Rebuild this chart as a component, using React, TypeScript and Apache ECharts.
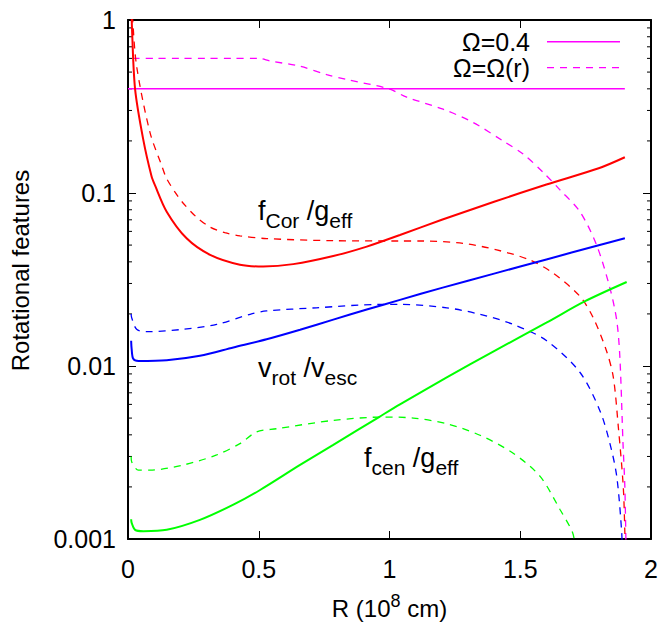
import React, { useEffect, useRef } from 'react';
import * as echarts from 'echarts';

// ---------- data ----------
const xTickLabels = ['0', '0.5', '1', '1.5', '2'];
const yTickLabels = ['0.001', '0.01', '0.1', '1'];
const minorTickValues = [
  0.002, 0.003, 0.004, 0.005, 0.006, 0.007, 0.008, 0.009,
  0.02, 0.03, 0.04, 0.05, 0.06, 0.07, 0.08, 0.09,
  0.2, 0.3, 0.4, 0.5, 0.6, 0.7, 0.8, 0.9,
];
const legendNames = ['Ω=0.4', 'Ω=Ω(r)'];

const omegaConstX = [0, 1.9];
const omegaConstY = [0.4, 0.4];

const omegaRX = [0.018, 0.1, 0.2, 0.3, 0.4, 0.5, 0.543, 0.658, 0.76, 0.836, 0.998, 1.066, 1.205, 1.319, 1.434, 1.511, 1.587, 1.65, 1.728, 1.792, 1.843, 1.869, 1.881, 1.893, 1.9, 1.905];
const omegaRY = [0.6, 0.6, 0.6, 0.6, 0.6, 0.6, 0.58, 0.54, 0.483, 0.453, 0.4, 0.358, 0.305, 0.256, 0.2, 0.168, 0.132, 0.105, 0.078, 0.05, 0.0282, 0.0183, 0.0112, 0.00355, 0.002, 0.0008];

const fCorX = [0.013, 0.015, 0.027, 0.058, 0.09, 0.103, 0.148, 0.224, 0.314, 0.428, 0.517, 0.632, 0.785, 0.913, 1.04, 1.2, 1.4, 1.6, 1.8, 1.9];
const fCorY = [1.3, 0.92, 0.40, 0.205, 0.125, 0.111, 0.078, 0.0547, 0.0439, 0.0385, 0.0376, 0.0388, 0.0432, 0.049, 0.0572, 0.07, 0.089, 0.112, 0.139, 0.161];

const fCorRX = [0.012, 0.018, 0.033, 0.084, 0.129, 0.148, 0.192, 0.212, 0.26, 0.314, 0.37, 0.428, 0.53, 0.785, 1.04, 1.128, 1.281, 1.41, 1.537, 1.626, 1.728, 1.779, 1.83, 1.856, 1.875, 1.894, 1.9, 1.902];
const fCorRY = [1.5, 1.0, 0.54, 0.224, 0.144, 0.121, 0.095, 0.087, 0.073, 0.0635, 0.059, 0.0565, 0.0545, 0.053, 0.0528, 0.0528, 0.0512, 0.0469, 0.041, 0.0344, 0.0253, 0.019, 0.0122, 0.0086, 0.00445, 0.002, 0.00109, 0.0008];

const vRotX = [0.012, 0.014, 0.02, 0.04, 0.148, 0.275, 0.403, 0.53, 0.658, 0.785, 0.913, 1.04, 1.2, 1.4, 1.6, 1.8, 1.9];
const vRotY = [0.014, 0.0125, 0.011, 0.0107, 0.0108, 0.01146, 0.0128, 0.01427, 0.0162, 0.01853, 0.0212, 0.0241, 0.0283, 0.0342, 0.0413, 0.0499, 0.0548];

const vRotRX = [0.012, 0.014, 0.033, 0.071, 0.212, 0.339, 0.467, 0.53, 0.72, 0.964, 1.04, 1.219, 1.346, 1.473, 1.601, 1.728, 1.805, 1.843, 1.869, 1.888, 1.89];
const vRotRY = [0.02, 0.019, 0.0163, 0.0158, 0.0163, 0.0174, 0.0199, 0.0208, 0.0217, 0.0227, 0.0227, 0.0217, 0.0199, 0.0174, 0.014, 0.0092, 0.0055, 0.00356, 0.0023, 0.00109, 0.0008];

const fCenX = [0.012, 0.014, 0.027, 0.059, 0.148, 0.275, 0.403, 0.505, 0.658, 0.785, 0.96, 1.04, 1.219, 1.4, 1.6, 1.748, 1.907];
const fCenY = [0.0013, 0.00124, 0.00113, 0.00111, 0.00113, 0.00129, 0.00158, 0.00192, 0.00268, 0.0035, 0.00507, 0.006, 0.0086, 0.0122, 0.0178, 0.0237, 0.0306];

const fCenRX = [0.012, 0.014, 0.04, 0.084, 0.212, 0.339, 0.428, 0.492, 0.569, 0.785, 0.976, 1.091, 1.219, 1.346, 1.473, 1.576, 1.652, 1.70, 1.71];
const fCenRY = [0.003, 0.0028, 0.0025, 0.0025, 0.00268, 0.00306, 0.00356, 0.00416, 0.00434, 0.00485, 0.00507, 0.005, 0.00464, 0.00398, 0.00313, 0.0023, 0.00148, 0.00109, 0.0009];

// ---------- styles ----------
const FONT = '"Liberation Sans", Arial, Helvetica, sans-serif';
const RED = '#ff0000';
const BLUE = '#0000ff';
const GREEN = '#00ff00';
const MAG = '#ff00ff';
const DASH = [7, 6];

const zip = (xs: number[], ys: number[]) => xs.map((x, i) => [x, ys[i]]);

function lineSeries(name: string, xs: number[], ys: number[], color: string, dashed: boolean, width: number) {
  return {
    name,
    type: 'line',
    data: zip(xs, ys),
    xAxisIndex: 0,
    yAxisIndex: 0,
    symbol: 'none',
    showSymbol: false,
    smooth: 0.3,
    clip: true,
    lineStyle: { color, width, type: dashed ? DASH : 'solid' },
    itemStyle: { color },
    emphasis: { disabled: true },
    z: dashed ? 2 : 3,
  };
}

const annRich = {
  m: { fontSize: 27, lineHeight: 30, fontFamily: FONT, verticalAlign: 'top', fill: '#000' },
  s: { fontSize: 21, lineHeight: 21, padding: [13, 0, 0, 0], fontFamily: FONT, verticalAlign: 'top', fill: '#000' },
};

function annotation(text: string, x: number, y: number) {
  return {
    type: 'text',
    x,
    y,
    silent: true,
    style: { text, rich: annRich, align: 'left', verticalAlign: 'top', fill: '#000', fontFamily: FONT, fontSize: 27 },
  };
}

function legendRow(label: string, y: number, dashed: boolean, width: number) {
  return [
    {
      type: 'text',
      x: 530,
      y,
      silent: true,
      style: { text: label, align: 'right', verticalAlign: 'middle', fill: '#000', fontFamily: FONT, fontSize: 25 },
    },
    {
      type: 'line',
      silent: true,
      shape: { x1: 547, y1: y, x2: 620, y2: y },
      style: { stroke: MAG, lineWidth: width, lineDash: dashed ? DASH : null },
    },
  ];
}

export default function App() {
  const ref = useRef<HTMLDivElement>(null);
  useEffect(() => {
    document.body.style.margin = '0';
    const chart = echarts.init(ref.current as HTMLDivElement, null, { renderer: 'svg' });
    chart.setOption({
      animation: false,
      backgroundColor: '#ffffff',
      textStyle: { fontFamily: FONT },
      grid: { left: 128, right: 12, top: 20, bottom: 82, containLabel: false },
      xAxis: [
        {
          type: 'value',
          min: 0,
          max: 2,
          interval: 0.5,
          position: 'bottom',
          name: '{n|R (10}{sup|8}{n| cm)}',
          nameLocation: 'middle',
          nameGap: 53,
          nameTextStyle: {
            rich: {
              n: { fontFamily: FONT, fontSize: 24, lineHeight: 24, padding: [4, 0, 0, 0], verticalAlign: 'top', color: '#000' },
              sup: { fontFamily: FONT, fontSize: 18, lineHeight: 18, verticalAlign: 'top', color: '#000' },
            },
          },
          axisLine: { show: true, onZero: false, lineStyle: { color: '#000', width: 2 } },
          axisTick: { show: true, inside: true, length: 8, lineStyle: { color: '#000', width: 1 } },
          axisLabel: {
            margin: 17,
            fontSize: 25,
            fontFamily: FONT,
            color: '#000',
            formatter: (v: number) => xTickLabels[Math.round(v / 0.5)] ?? '',
          },
          splitLine: { show: false },
        },
        {
          type: 'value',
          min: 0,
          max: 2,
          interval: 0.5,
          position: 'top',
          axisLine: { show: true, onZero: false, lineStyle: { color: '#000', width: 2 } },
          axisTick: { show: true, inside: true, length: 8, lineStyle: { color: '#000', width: 1 } },
          axisLabel: { show: false },
          splitLine: { show: false },
        },
      ],
      yAxis: [
        {
          type: 'log',
          logBase: 10,
          min: 0.001,
          max: 1,
          position: 'left',
          name: 'Rotational features',
          nameLocation: 'middle',
          nameGap: 96,
          nameTextStyle: { fontFamily: FONT, fontSize: 24, color: '#000', padding: [0, 0, 0, 18] },
          axisLine: { show: true, onZero: false, lineStyle: { color: '#000', width: 2 } },
          axisTick: { show: true, inside: true, length: 8, lineStyle: { color: '#000', width: 1 } },
          axisLabel: {
            margin: 12,
            fontSize: 25,
            fontFamily: FONT,
            color: '#000',
            formatter: (v: number) => yTickLabels[Math.round(Math.log10(v)) + 3] ?? '',
          },
          splitLine: { show: false },
        },
        {
          type: 'log',
          logBase: 10,
          min: 0.001,
          max: 1,
          position: 'right',
          axisLine: { show: true, onZero: false, lineStyle: { color: '#000', width: 2 } },
          axisTick: { show: true, inside: true, length: 8, lineStyle: { color: '#000', width: 1 } },
          axisLabel: { show: false },
          splitLine: { show: false },
        },
      ],
      graphic: [
        annotation('{m|f}{s|Cor}{m| /g}{s|eff}', 258, 197),
        annotation('{m|v}{s|rot}{m| /v}{s|esc}', 258, 354),
        annotation('{m|f}{s|cen}{m| /g}{s|eff}', 364, 444),
        ...legendRow(legendNames[0], 41.7, false, 1.5),
        ...legendRow(legendNames[1], 67.7, true, 1.3),
      ],
      series: [
        lineSeries(legendNames[0], omegaConstX, omegaConstY, MAG, false, 1.5),
        lineSeries(legendNames[1], omegaRX, omegaRY, MAG, true, 1.3),
        lineSeries('fCor Ω=0.4', fCorX, fCorY, RED, false, 2),
        lineSeries('fCor Ω(r)', fCorRX, fCorRY, RED, true, 1.3),
        lineSeries('vrot Ω=0.4', vRotX, vRotY, BLUE, false, 2),
        lineSeries('vrot Ω(r)', vRotRX, vRotRY, BLUE, true, 1.3),
        lineSeries('fcen Ω=0.4', fCenX, fCenY, GREEN, false, 2),
        lineSeries('fcen Ω(r)', fCenRX, fCenRY, GREEN, true, 1.3),
        {
          name: 'minor ticks',
          type: 'custom',
          xAxisIndex: 0,
          yAxisIndex: 0,
          silent: true,
          clip: false,
          data: minorTickValues.map((v) => [0, v]),
          renderItem: (_params: any, api: any) => {
            const v = api.value(1);
            const l = api.coord([0, v]);
            const r = api.coord([2, v]);
            const st = { stroke: '#000', lineWidth: 1 };
            return {
              type: 'group',
              children: [
                { type: 'line', shape: { x1: l[0], y1: l[1], x2: l[0] + 4, y2: l[1] }, style: st },
                { type: 'line', shape: { x1: r[0] - 4, y1: r[1], x2: r[0], y2: r[1] }, style: st },
              ],
            };
          },
        },
      ],
    });
    return () => chart.dispose();
  }, []);
  return <div ref={ref} style={{ position: 'absolute', left: 0, top: 0, width: 663, height: 625 }} />;
}
